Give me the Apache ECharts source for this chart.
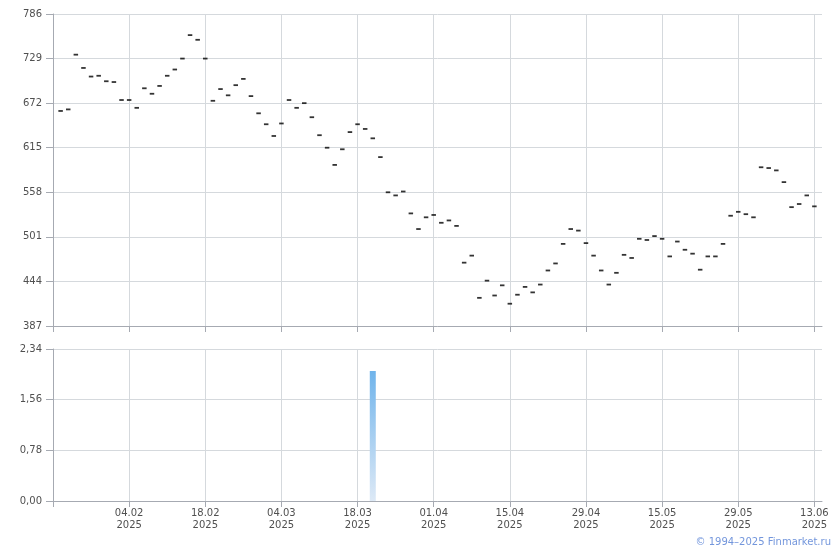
<!DOCTYPE html>
<html>
<head>
<meta charset="utf-8">
<script src="https://cdn.jsdelivr.net/npm/echarts@6/dist/echarts.min.js"></script>
<style>
html,body{margin:0;padding:0;background:#fff;}
#chart{width:840px;height:550px;}
</style>
</head>
<body>
<div id="chart"></div>
<script>
// Category positions 0..101 (trading days); ticks every 10 positions
const tickLabels = ['', '04.02\n2025', '18.02\n2025', '04.03\n2025', '18.03\n2025', '01.04\n2025',
  '15.04\n2025', '29.04\n2025', '15.05\n2025', '29.05\n2025', '13.06\n2025'];
// Price values at positions 1..100
const prices = [662, 664, 734, 717, 706, 707, 700, 699, 676, 676,
  666, 691, 684, 694, 707, 715, 729, 759, 753, 729,
  675, 690, 682, 695, 703, 681, 659, 645, 630, 646,
  676, 666, 672, 654, 631, 615, 593, 613, 635, 645,
  639, 627, 603, 558, 554, 559, 531, 511, 526, 529,
  519, 522, 515, 468, 477, 423, 445, 426, 439, 415.5,
  427, 437, 430, 440, 458, 467, 492, 511, 509, 493,
  477, 458, 440, 455, 478, 474, 498.5, 497, 502, 498.5,
  476, 495, 484.5, 479.5, 459, 476, 476, 492, 528, 533,
  530, 526, 590, 589, 586, 571, 539, 543, 554, 540];
// Volume bars: position and value
const volumePos = [42];
const volumeVal = [2.0];
// Axis ranges
const priceMin = 387, priceMax = 786, priceStep = 57;
const volMin = 0, volMax = 2.34, volStep = 0.78;

const priceData = prices.map((v, i) => [i + 1, v]);
const volData = volumePos.map((p, i) => [p, volumeVal[i]]);

const FONT = 'DejaVu Sans';
const gridColor = '#d5d9dd';
const axisColor = '#a6aab2';
const textColor = '#505050';

const chart = echarts.init(document.getElementById('chart'), null, {renderer: 'canvas'});
function xAxisFor(gridIndex, withLabels) {
  return {
    type: 'category',
    gridIndex: gridIndex,
    data: Array.from({length: 102}, (_, i) => String(i)),
    boundaryGap: false,
    axisLine: {show: true, lineStyle: {color: axisColor}},
    axisTick: {show: true, length: 6, interval: (i) => i % 10 === 0 && i <= 100, lineStyle: {color: axisColor}},
    splitLine: {show: true, interval: (i) => i % 10 === 0 && i > 0 && i <= 100, lineStyle: {color: gridColor}},
    axisLabel: withLabels ? {
      show: true, interval: (i) => i % 10 === 0, margin: 6,
      fontFamily: FONT, fontSize: 10, color: textColor, lineHeight: 12,
      formatter: (v) => tickLabels[Math.round(Number(v) / 10)] || ''
    } : {show: false}
  };
}
chart.setOption({
  animation: false,
  grid: [
    {left: 53, right: 18, top: 14, height: 312, outerBoundsMode: 'none', containLabel: false},
    {left: 53, right: 18, top: 349, height: 152, outerBoundsMode: 'none', containLabel: false}
  ],
  xAxis: [xAxisFor(0, false), xAxisFor(1, true)],
  yAxis: [
    {type: 'value', gridIndex: 0, position: 'left', min: priceMin, max: priceMax, show: false, splitLine: {show: false}},
    {type: 'value', gridIndex: 0, position: 'left', min: 0, max: priceMax - priceMin, interval: priceStep,
      axisLine: {show: true, lineStyle: {color: axisColor}},
      axisTick: {show: true, length: 7, lineStyle: {color: axisColor}},
      axisLabel: {fontFamily: FONT, fontSize: 10, color: textColor, margin: 11,
        formatter: (v) => String(Math.round(v + priceMin))},
      splitLine: {show: true, lineStyle: {color: gridColor}}},
    {type: 'value', gridIndex: 1, position: 'left', min: volMin, max: volMax, interval: volStep,
      axisLine: {show: true, lineStyle: {color: axisColor}},
      axisTick: {show: true, length: 7, lineStyle: {color: axisColor}},
      axisLabel: {fontFamily: FONT, fontSize: 10, color: textColor, margin: 11,
        formatter: (v) => v.toFixed(2).replace('.', ',')},
      splitLine: {show: true, lineStyle: {color: gridColor}}}
  ],
  series: [
    {
      type: 'scatter', xAxisIndex: 0, yAxisIndex: 0,
      data: priceData,
      symbol: 'rect', symbolSize: [4.5, 1.8],
      itemStyle: {color: '#000'}
    },
    {
      type: 'bar', xAxisIndex: 1, yAxisIndex: 2,
      data: volData, barWidth: 6,
      itemStyle: {
        color: new echarts.graphic.LinearGradient(0, 0, 0, 1, [
          {offset: 0, color: '#70b4eb'},
          {offset: 1, color: '#dde9f6'}
        ])
      }
    }
  ],
  graphic: [{
    type: 'text', right: 9, bottom: 3,
    style: {text: '© 1994–2025 Finmarket.ru', fill: '#7396dc', font: '10px "DejaVu Sans"'}
  }]
});
</script>
</body>
</html>
